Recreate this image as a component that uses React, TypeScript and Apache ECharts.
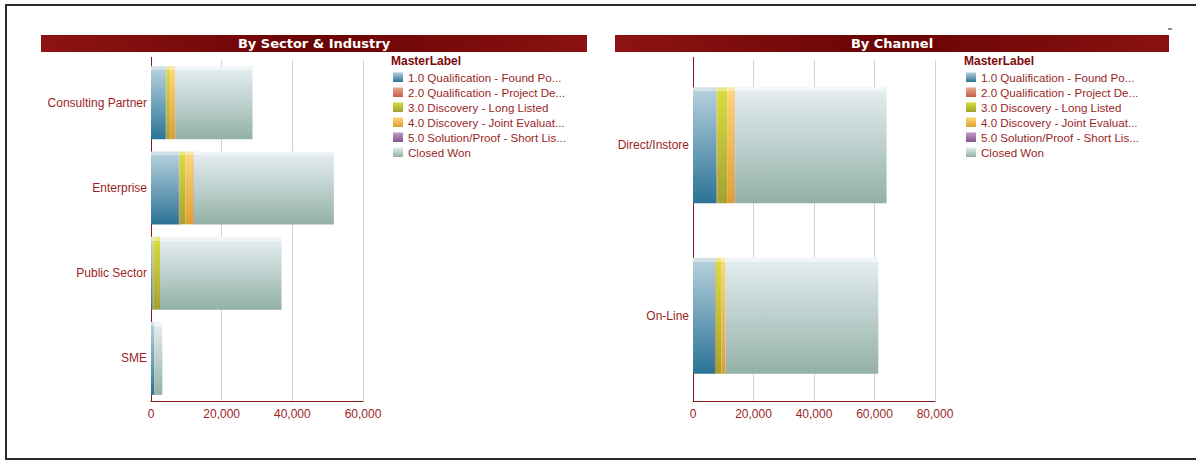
import React, { useEffect, useRef } from "react";
import * as echarts from "echarts";

const stages = [
  "1.0 Qualification - Found Po...",
  "2.0 Qualification - Project De...",
  "3.0 Discovery - Long Listed",
  "4.0 Discovery - Joint Evaluat...",
  "5.0 Solution/Proof - Short Lis...",
  "Closed Won",
];

const sectorCategories = ["Consulting Partner", "Enterprise", "Public Sector", "SME"];
const sectorQualFound = [4200, 7900, 450, 900];
const sectorQualProject = [200, 200, 200, 0];
const sectorDiscLong = [930, 1600, 1900, 0];
const sectorDiscJoint = [1500, 2350, 0, 0];
const sectorSolution = [0, 100, 0, 0];
const sectorClosedWon = [21900, 39600, 34400, 2300];

const channelCategories = ["Direct/Instore", "On-Line"];
const channelQualFound = [7800, 7270];
const channelQualProject = [200, 300];
const channelDiscLong = [3300, 1880];
const channelDiscJoint = [2500, 1320];
const channelSolution = [150, 0];
const channelClosedWon = [50050, 50480];

const sectorTicks = { min: 0, max: 60000, interval: 20000 };
const channelTicks = { min: 0, max: 80000, interval: 20000 };

// [top face, upper front, lower front]
const stageColors: [string, string, string][] = [
  ["#d3e2e9", "#b3cfdb", "#2b7396"],
  ["#f3cfc4", "#eba896", "#c75f4a"],
  ["#e6ea86", "#d6dc3e", "#a3a232"],
  ["#fee7ad", "#fdd57a", "#df9f30"],
  ["#dcc6e2", "#bf98c8", "#86568f"],
  ["#f1f5f7", "#e3ecef", "#93b1a7"],
];

const maroon = "#9b1f1f";
const font = "Liberation Sans";

function grad(c: [string, string, string], face: number) {
  return new echarts.graphic.LinearGradient(0, 0, 0, 1, [
    { offset: 0, color: c[0] },
    { offset: face, color: c[0] },
    { offset: face + 0.001, color: c[1] },
    { offset: 1, color: c[2] },
  ]);
}

export default function App() {
  const ref = useRef<HTMLDivElement>(null);
  useEffect(() => {
    if (!ref.current) return;
    const chart = echarts.init(ref.current, undefined, { renderer: "svg" });
    const sectorData = [sectorQualFound, sectorQualProject, sectorDiscLong, sectorDiscJoint, sectorSolution, sectorClosedWon];
    const channelData = [channelQualFound, channelQualProject, channelDiscLong, channelDiscJoint, channelSolution, channelClosedWon];

    const series: any[] = [];
    stages.forEach((name, i) => {
      series.push({
        type: "bar",
        name,
        stack: "sector",
        xAxisIndex: 0,
        yAxisIndex: 0,
        barWidth: 73,
        data: sectorData[i],
        itemStyle: { color: grad(stageColors[i], 0.055) },
      });
    });
    stages.forEach((name, i) => {
      series.push({
        type: "bar",
        name,
        stack: "channel",
        xAxisIndex: 1,
        yAxisIndex: 1,
        barWidth: 116,
        data: channelData[i],
        itemStyle: { color: grad(stageColors[i], 0.035) },
      });
    });

    const valueAxis = (gridIndex: number, t: { min: number; max: number; interval: number }) => ({
      type: "value",
      gridIndex,
      min: t.min,
      max: t.max,
      interval: t.interval,
      axisLine: { show: true, lineStyle: { color: "#8b1a1a", width: 1 } },
      axisTick: { show: false },
      axisLabel: {
        color: maroon,
        fontFamily: font,
        fontSize: 12,
        margin: 7,
        formatter: (v: number) => v.toLocaleString("en-US"),
      },
      splitLine: { show: true, lineStyle: { color: "#d2d2d2", width: 1 } },
    });
    const catAxis = (gridIndex: number, data: string[]) => ({
      type: "category",
      gridIndex,
      data,
      inverse: true,
      axisLine: { show: true, lineStyle: { color: "#8b1a1a", width: 1 } },
      axisTick: { show: false },
      axisLabel: {
        color: maroon,
        fontFamily: font,
        fontSize: 12,
        margin: 4,
        verticalAlign: "middle",
        padding: [5, 0, 0, 0],
      },
      splitLine: { show: false },
    });

    const legend = (left: number) => ({
      orient: "vertical",
      left,
      top: 71,
      padding: 0,
      itemWidth: 10,
      itemHeight: 10,
      itemGap: 3,
      icon: "rect",
      selectedMode: false,
      data: stages,
      textStyle: { color: maroon, fontFamily: font, fontSize: 11.6, padding: [0, 0, 0, 0] },
    });

    const titleBar = (x: number, w: number, text: string) => [
      {
        type: "rect",
        left: x,
        top: 35,
        shape: { width: w, height: 17 },
        style: {
          fill: new echarts.graphic.LinearGradient(0, 0, 1, 0, [
            { offset: 0, color: "#8e1313" },
            { offset: 0.5, color: "#690404" },
            { offset: 1, color: "#8a1111" },
          ]),
        },
      },
      {
        type: "text",
        x: x + w / 2,
        y: 43.5,
        style: {
          text,
          fill: "#ffffff",
          font: `bold 13px "DejaVu Sans"`,
          textAlign: "center",
          textVerticalAlign: "middle",
        },
      },
    ];

    const axisExt = (x: number) => ({
      type: "line",
      shape: { x1: x + 0.5, y1: 57, x2: x + 0.5, y2: 60 },
      style: { stroke: "#8b1a1a", lineWidth: 1 },
      silent: true,
    });

    chart.setOption({
      animation: false,
      backgroundColor: "#ffffff",
      grid: [
        { left: 151, top: 60, width: 212, height: 341 },
        { left: 693, top: 60, width: 242, height: 341 },
      ],
      xAxis: [valueAxis(0, sectorTicks), valueAxis(1, channelTicks)],
      yAxis: [catAxis(0, sectorCategories), catAxis(1, channelCategories)],
      legend: [legend(393), legend(966)],
      series,
      graphic: [
        {
          type: "rect",
          shape: { x: 6, y: 5, width: 1200, height: 454 },
          style: { fill: "none", stroke: "#2a2a2a", lineWidth: 2 },
          silent: true,
        },
        ...titleBar(41, 546, "By Sector & Industry"),
        ...titleBar(615, 554, "By Channel"),
        axisExt(151),
        axisExt(693),
        {
          type: "text",
          x: 391,
          y: 61,
          style: { text: "MasterLabel", fill: "#7a0a0a", font: `bold 12px ${font}`, textVerticalAlign: "middle" },
        },
        {
          type: "text",
          x: 964,
          y: 61,
          style: { text: "MasterLabel", fill: "#7a0a0a", font: `bold 12px ${font}`, textVerticalAlign: "middle" },
        },
        {
          type: "line",
          shape: { x1: 1168, y1: 29, x2: 1172, y2: 29 },
          style: { stroke: "#1a2a3a", lineWidth: 1 },
        },
      ],
    });
    return () => chart.dispose();
  }, []);
  return (
    <div
      ref={ref}
      style={{ position: "fixed", left: 0, top: 0, width: 1196, height: 461 }}
    />
  );
}
